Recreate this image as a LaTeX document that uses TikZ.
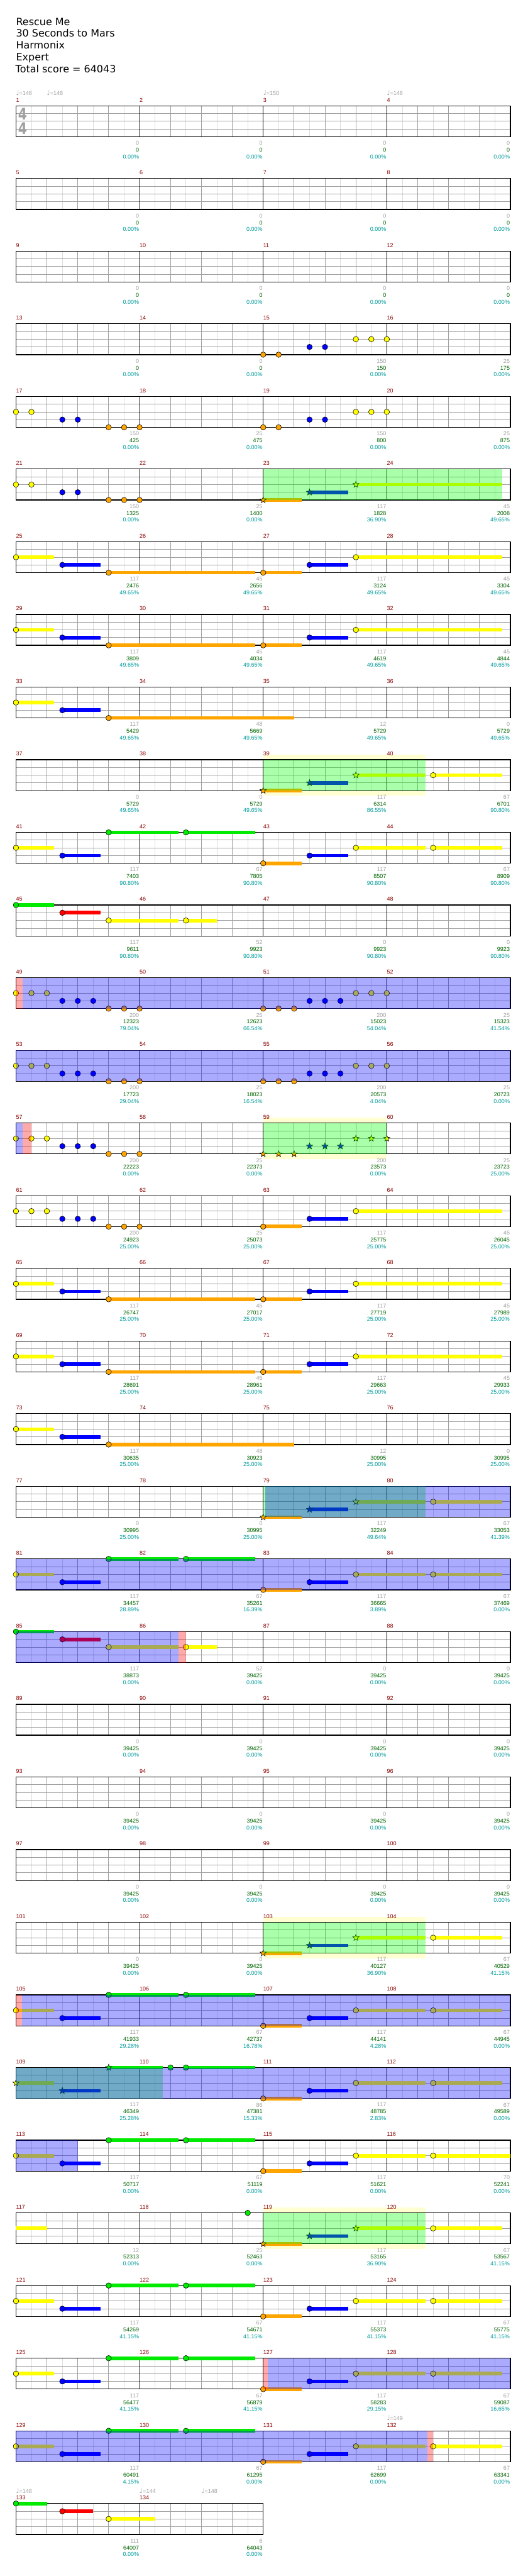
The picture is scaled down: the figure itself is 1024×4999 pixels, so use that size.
\documentclass[tikz,border=0pt]{standalone}
\usepackage{fontspec}
\setmainfont{Liberation Sans}
\newfontfamily\djv{DejaVu Sans}
\definecolor{colG}{RGB}{0,235,0}
\definecolor{colR}{RGB}{255,0,0}
\definecolor{colY}{RGB}{255,255,0}
\definecolor{colB}{RGB}{0,0,255}
\definecolor{colO}{RGB}{255,165,0}
\definecolor{ovgreen}{RGB}{0,255,0}
\definecolor{ovblue}{RGB}{0,0,255}
\definecolor{ovred}{RGB}{255,0,0}
\definecolor{paley}{RGB}{255,255,210}
\definecolor{glight}{RGB}{220,220,220}
\definecolor{gdark}{RGB}{160,160,160}
\definecolor{mred}{RGB}{139,0,0}
\definecolor{tgreen}{RGB}{0,100,0}
\definecolor{tcyan}{RGB}{0,155,155}
\tikzset{
  gl/.style={draw=glight, line width=1pt},
  gd/.style={draw=gdark, line width=1pt},
  meas/.style={draw=black, line width=1pt},
  border/.style={draw=black, line width=1.5pt},
  nh/.style={draw=black, line width=0.7pt},
  ovg/.style={fill=ovgreen, fill opacity=0.333},
  ovb/.style={fill=ovblue, fill opacity=0.333},
  ovr/.style={fill=ovred, fill opacity=0.333},
  small/.style={inner sep=0pt, font=\fontsize{11}{11}\selectfont},
  mnum/.style={small, anchor=west, text=mred},
  lsc/.style={small, anchor=east, text=gdark},
  ltot/.style={small, anchor=east, text=tgreen},
  lpct/.style={small, anchor=east, text=tcyan},
  tempo/.style={small, anchor=base west, text=gdark},
  tsig/.style={inner sep=0pt, text=gdark, font=\djv\bfseries\fontsize{31}{31}\selectfont, xscale=0.8},
  title/.style={inner sep=0pt, anchor=base west, font=\djv\fontsize{19.5}{19.5}\selectfont}
}
\def\lyG{0}\def\lyR{15}\def\lyY{30}\def\lyB{45}\def\lyO{60}
\newcommand\LY[1]{\csname ly#1\endcsname}
\newcommand\SUS[3]{\edef\yy{\LY{#1}}\fill[col#1] (#2,\yy-3.5) rectangle (#3,\yy+3.5);}
\newcommand\NH[2]{\edef\yy{\LY{#1}}\filldraw[nh,fill=col#1] (#2,\yy) circle (5.3);}
\newcommand\NT[3]{\SUS{#1}{#2}{#3}\NH{#1}{#2}}
\newcommand\STH[2]{\edef\yy{\LY{#1}}\filldraw[nh,fill=col#1] (#2,\yy) +(-90:6.5) -- +(-54:2.7) -- +(-18:6.5) -- +(18:2.7) -- +(54:6.5) -- +(90:2.7) -- +(126:6.5) -- +(162:2.7) -- +(198:6.5) -- +(234:2.7) -- cycle;}
\newcommand\ST[3]{\SUS{#1}{#2}{#3}\STH{#1}{#2}}
\newcommand\PALE[2]{\fill[paley] (#1,-10) rectangle (#2,70);}
\newcommand\OVG[2]{\fill[ovg] (#1,0) rectangle (#2,60);}
\newcommand\OVB[2]{\fill[ovb] (#1,0) rectangle (#2,60);}
\newcommand\OVR[2]{\fill[ovr] (#1,0) rectangle (#2,60);}
\newcommand\TEMPO[3]{\node[tempo] (#1) at (#2,-20) {{\djv\fontsize{13}{13}\selectfont ♩}=#3};}
% riffs
\newcommand\riffAa{\NH Y{0}\NH Y{30}\NH B{90}\NH B{120}\NH O{180}\NH O{210}\NH O{240}}
\newcommand\riffAb{\NH O{480}\NH O{510}\NH B{570}\NH B{600}\NH Y{660}\NH Y{690}\NH Y{720}}
\newcommand\riffBa{\NH Y{0}\NH Y{30}\NH Y{60}\NH B{90}\NH B{120}\NH B{150}\NH O{180}\NH O{210}\NH O{240}}
\newcommand\riffBb{\NH O{480}\NH O{510}\NH O{540}\NH B{570}\NH B{600}\NH B{630}\NH Y{660}\NH Y{690}\NH Y{720}}
\newcommand\riffBs{\STH O{480}\STH O{510}\STH O{540}\STH B{570}\STH B{600}\STH B{630}\STH Y{660}\STH Y{690}\STH Y{720}}
\newcommand\phA{\NT Y{0}{74}\NT B{90}{164}\NT O{180}{465}\NT O{480}{555}\NT B{570}{645}\NT Y{660}{944}}
\newcommand\phC{\NT Y{0}{74}\NT B{90}{164}\NT G{180}{315}\NT G{330}{465}\NT O{480}{555}\NT B{570}{645}\NT Y{660}{795}\NT Y{810}{944}}
\newcommand\odB{\ST O{480}{555}\ST B{570}{645}\ST Y{660}{795}\NT Y{810}{944}}
\newcommand\tailA{\NT Y{0}{74}\NT B{90}{164}\NT O{180}{540}}
\newcommand\tailC{\NT G{0}{74}\NT R{90}{164}\NT Y{180}{315}\NT Y{330}{390}}
% row: #1 index, #2 measures, #3 labels, #4 background, #5 notes, #6 overlays
\newcommand\ROW[6]{%
\begin{scope}[shift={(31,205.3+141*#1)}]
#4
\pgfmathtruncatemacro\W{240*#2}
\fill[white] (0,0) rectangle (\W,60);
\foreach \i in {30,90,...,\W} {\draw[gl] (\i,0) -- (\i,60);}
\foreach \i in {60,120,...,\W} {\draw[gd] (\i,0) -- (\i,60);}
\foreach \j in {15,30,45} {\draw[gd] (0,\j) -- (\W,\j);}
\foreach \i in {240,480,...,\W} {\draw[meas] (\i,0) -- (\i,60);}
\draw[border] (0,0) rectangle (\W,60);
#5
#6
\foreach \i in {1,...,#2} {\pgfmathtruncatemacro\mn{4*#1+\i}\node[mnum] (m\mn) at (240*\i-240,-11.3) {\mn};}
\foreach \xa/\xb/\xc [count=\i] in {#3} {\pgfmathtruncatemacro\mn{4*#1+\i}
  \node[lsc] (sc\mn) at (240*\i-1,72.4) {\xa};
  \node[ltot] (tot\mn) at (240*\i-1,85.7) {\xb};
  \node[lpct] (pc\mn) at (240*\i-1,98.7) {\xc\%};}
\end{scope}}
\begin{document}
\begin{tikzpicture}[x=1pt,y=-1pt]
\useasboundingbox (0,0) rectangle (1024,4999);
\fill[white] (0,0) rectangle (1024,4999);
\node[title] (h1) at (31,49) {Rescue Me};
\node[title] (h2) at (31,72) {30 Seconds to Mars};
\node[title] (h3) at (31,95) {Harmonix};
\node[title] (h4) at (31,118) {Expert};
\node[title] (h5) at (30,141.5) {Total score = 64043};
\ROW{0}{4}{0/0/0.00,0/0/0.00,0/0/0.00,0/0/0.00}{}{\node[tsig] (ts1) at (13,15.5) {4};\node[tsig] (ts2) at (13,44) {4};\TEMPO{tp1}{0}{148}\TEMPO{tp2}{60}{148}\TEMPO{tp3}{480}{150}\TEMPO{tp4}{720}{148}}{}
\ROW{1}{4}{0/0/0.00,0/0/0.00,0/0/0.00,0/0/0.00}{}{}{}
\ROW{2}{4}{0/0/0.00,0/0/0.00,0/0/0.00,0/0/0.00}{}{}{}
\ROW{3}{4}{0/0/0.00,0/0/0.00,150/150/0.00,25/175/0.00}{}{\riffAb}{}
\ROW{4}{4}{150/425/0.00,25/475/0.00,150/800/0.00,25/875/0.00}{}{\riffAa\riffAb}{}
\ROW{5}{4}{150/1325/0.00,25/1400/0.00,117/1828/36.90,45/2008/49.65}{}{\riffAa\ST O{480}{555}\ST B{570}{645}\ST Y{660}{944}}{\OVG{480}{944}}
\ROW{6}{4}{117/2476/49.65,45/2656/49.65,117/3124/49.65,45/3304/49.65}{}{\phA}{}
\ROW{7}{4}{117/3809/49.65,45/4034/49.65,117/4619/49.65,45/4844/49.65}{}{\phA}{}
\ROW{8}{4}{117/5429/49.65,48/5669/49.65,12/5729/49.65,0/5729/49.65}{}{\tailA}{}
\ROW{9}{4}{0/5729/49.65,0/5729/49.65,117/6314/86.55,67/6701/90.80}{\PALE{480}{795}}{\odB}{\OVG{480}{795}}
\ROW{10}{4}{117/7403/90.80,67/7805/90.80,117/8507/90.80,67/8909/90.80}{}{\phC}{}
\ROW{11}{4}{117/9611/90.80,52/9923/90.80,0/9923/90.80,0/9923/90.80}{}{\tailC}{}
\ROW{12}{4}{200/12323/79.04,25/12623/66.54,200/15023/54.04,25/15323/41.54}{}{\riffBa\riffBb}{\OVR{0}{13}\OVB{13}{960}}
\ROW{13}{4}{200/17723/29.04,25/18023/16.54,200/20573/4.04,25/20723/0.00}{}{\riffBa\riffBb}{\OVB{0}{960}}
\ROW{14}{4}{200/22223/0.00,25/22373/0.00,200/23573/0.00,25/23723/25.00}{\PALE{480}{720}}{\riffBa\riffBs}{\OVB{0}{13}\OVR{13}{30}\OVG{480}{720}}
\ROW{15}{4}{200/24923/25.00,25/25073/25.00,117/25775/25.00,45/26045/25.00}{}{\riffBa\NT O{480}{555}\NT B{570}{645}\NT Y{660}{944}}{}
\ROW{16}{4}{117/26747/25.00,45/27017/25.00,117/27719/25.00,45/27989/25.00}{}{\phA}{}
\ROW{17}{4}{117/28691/25.00,45/28961/25.00,117/29663/25.00,45/29933/25.00}{}{\phA}{}
\ROW{18}{4}{117/30635/25.00,48/30923/25.00,12/30995/25.00,0/30995/25.00}{}{\tailA}{}
\ROW{19}{4}{0/30995/25.00,0/30995/25.00,117/32249/49.64,67/33053/41.39}{}{\odB}{\OVG{480}{795}\OVB{484}{960}}
\ROW{20}{4}{117/34457/28.89,67/35261/16.39,117/36665/3.89,67/37469/0.00}{}{\phC}{\OVB{0}{960}}
\ROW{21}{4}{117/38873/0.00,52/39425/0.00,0/39425/0.00,0/39425/0.00}{}{\tailC}{\OVB{0}{315}\OVR{315}{330}}
\ROW{22}{4}{0/39425/0.00,0/39425/0.00,0/39425/0.00,0/39425/0.00}{}{}{}
\ROW{23}{4}{0/39425/0.00,0/39425/0.00,0/39425/0.00,0/39425/0.00}{}{}{}
\ROW{24}{4}{0/39425/0.00,0/39425/0.00,0/39425/0.00,0/39425/0.00}{}{}{}
\ROW{25}{4}{0/39425/0.00,0/39425/0.00,117/40127/36.90,67/40529/41.15}{\PALE{480}{795}}{\odB}{\OVG{480}{795}}
\ROW{26}{4}{117/41933/29.28,67/42737/16.78,117/44141/4.28,67/44945/0.00}{}{\phC}{\OVR{0}{12}\OVB{12}{960}}
\ROW{27}{4}{117/46349/25.28,86/47381/15.33,117/48785/2.83,67/49589/0.00}{}{\ST Y{0}{74}\ST B{90}{164}\ST G{180}{285}\NH G{300}\NT G{330}{465}\NT O{480}{555}\NT B{570}{645}\NT Y{660}{795}\NT Y{810}{944}}{\OVG{0}{285}\OVB{0}{960}}
\ROW{28}{4}{117/50717/0.00,67/51119/0.00,117/51621/0.00,70/52241/0.00}{}{\NT Y{0}{74}\NT B{90}{164}\NT G{180}{315}\NT G{330}{465}\NT O{480}{555}\NT B{570}{645}\NT Y{660}{795}\NT Y{810}{960}}{\OVB{0}{120}}
\ROW{29}{4}{12/52313/0.00,25/52463/0.00,117/53165/36.90,67/53567/41.15}{\PALE{480}{795}}{\SUS Y{0}{60}\NH G{450}\odB}{\OVG{480}{795}}
\ROW{30}{4}{117/54269/41.15,67/54671/41.15,117/55373/41.15,67/55775/41.15}{}{\phC}{}
\ROW{31}{4}{117/56477/41.15,67/56879/41.15,117/58283/29.15,67/59087/16.65}{}{\phC}{\OVR{480}{489}\OVB{489}{960}}
\ROW{32}{4}{117/60491/4.15,67/61295/0.00,117/62699/0.00,67/63341/0.00}{}{\TEMPO{tp5}{720}{149}\phC}{\OVB{0}{799}\OVR{799}{810}}
\ROW{33}{2}{111/64007/0.00,6/64043/0.00}{}{\TEMPO{tp6}{0}{148}\TEMPO{tp7}{240}{144}\TEMPO{tp8}{360}{148}\NT G{0}{60}\NT R{90}{150}\NT Y{180}{270}}{}
\end{tikzpicture}
\end{document}
